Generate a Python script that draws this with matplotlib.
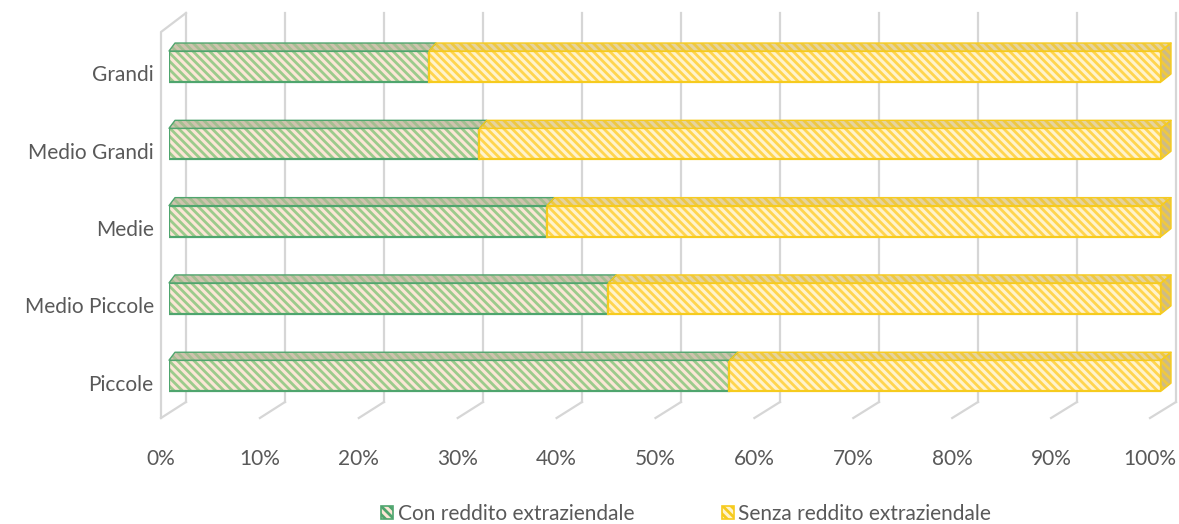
import matplotlib
matplotlib.use("Agg")
import matplotlib.pyplot as plt
from matplotlib.patches import Polygon, Patch
from matplotlib.lines import Line2D
from matplotlib.transforms import ScaledTranslation
import numpy as np

# ---------------- data ----------------
categories = ["Piccole", "Medio Piccole", "Medie", "Medio Grandi", "Grandi"]
con_reddito = [56.5, 44.3, 38.1, 31.3, 26.2]          # % Con reddito extraziendale
senza_reddito = [100 - v for v in con_reddito]          # % Senza reddito extraziendale
series_names = ["Con reddito extraziendale", "Senza reddito extraziendale"]
xtick_labels = ["0%", "10%", "20%", "30%", "40%", "50%", "60%", "70%", "80%", "90%", "100%"]

# ---------------- style ----------------
W, H, DPI = 1179, 524, 100
plt.rcParams["font.family"] = ["Lato", "DejaVu Sans"]
plt.rcParams["hatch.linewidth"] = 2.0
TXT = "#595959"
GRID = "#D6D6D6"
FS = 15
HATCH = "\\\\\\\\"

green_fill, green_hatch, green_edge = "#FBE6D6", "#9CCB8C", "#4FA56E"
green_top_fill, green_top_hatch = "#CFC3AE", "#A3BE90"
yel_fill, yel_hatch, yel_edge = "#FFF3CC", "#FFD54F", "#F6CB1E"
yel_top_fill, yel_top_hatch = "#E6D49E", "#EEC842"
yel_side_fill = "#CDBB86"

fig = plt.figure(figsize=(W / DPI, H / DPI), dpi=DPI)


def px_axes(left, right, top, bottom, **kw):
    return fig.add_axes([left / W, (H - bottom) / H, (right - left) / W, (bottom - top) / H], **kw)


def off(ax):
    ax.set_axis_off()
    ax.patch.set_alpha(0)


ylim = (-0.379, 4.666)
bar_h = 0.40
y = np.arange(len(categories))

# back wall (gridlines)
ax_wall = px_axes(186, 1176, 13, 402, zorder=0)
ax_wall.set_xlim(0, 1)
ax_wall.set_ylim(0, 1)
off(ax_wall)
ticks = np.linspace(0, 1, len(xtick_labels))
for t in ticks:
    ax_wall.axvline(t, color=GRID, lw=1.6, clip_on=False)

# floor front (tick labels)
ax_floor = px_axes(161, 1150, 410, 418, zorder=0)
ax_floor.set_xlim(0, 1)
ax_floor.set_xticks(ticks)
ax_floor.set_xticklabels(xtick_labels, color=TXT, fontsize=FS)
ax_floor.set_yticks([])
ax_floor.tick_params(axis="x", length=0, pad=22)
for s in ax_floor.spines.values():
    s.set_visible(False)
ax_floor.patch.set_alpha(0)

# bar back plane (for 3D top / side faces)
ax_back = px_axes(175, 1171, 7, 397, zorder=1)
ax_back.set_xlim(0, 100)
ax_back.set_ylim(*ylim)
off(ax_back)

# main axes: front face of bars
ax = px_axes(169, 1161, 15, 405, zorder=2)
ax.set_xlim(0, 100)
ax.set_ylim(*ylim)
ax.patch.set_alpha(0)
for s in ax.spines.values():
    s.set_visible(False)
ax.set_xticks([])
ax.set_yticks(y)
ax.set_yticklabels(categories, color=TXT, fontsize=FS)
ax.tick_params(axis="y", length=0, pad=11)
for lab in ax.get_yticklabels():
    lab.set_transform(lab.get_transform() + ScaledTranslation(0, -5 / 72, fig.dpi_scale_trans))

# front faces (hatch layer + outline layer)
ax.barh(y, con_reddito, height=bar_h, color=green_fill, edgecolor=green_hatch, hatch=HATCH, lw=0)
ax.barh(y, con_reddito, height=bar_h, fill=False, edgecolor=green_edge, lw=1.6)
ax.barh(y, senza_reddito, left=con_reddito, height=bar_h, color=yel_fill, edgecolor=yel_hatch,
        hatch=HATCH, lw=0)
ax.barh(y, senza_reddito, left=con_reddito, height=bar_h, fill=False, edgecolor=yel_edge, lw=1.6)

# 3D top faces and right side face, computed from both planes
inv = fig.transFigure.inverted()


def fig_pts(pairs):
    out = []
    for a, (xv, yv) in pairs:
        out.append(inv.transform(a.transData.transform((xv, yv))))
    return np.array(out)


def add_face(pts, fc, hc, ec):
    fig.add_artist(Polygon(pts, closed=True, facecolor=fc, edgecolor=hc, hatch=HATCH, lw=0,
                           transform=fig.transFigure, zorder=3))
    fig.add_artist(Polygon(pts, closed=True, fill=False, edgecolor=ec, lw=1.0,
                           transform=fig.transFigure, zorder=3.1, joinstyle="round"))


for yi, c, s in zip(y, con_reddito, senza_reddito):
    top = yi + bar_h / 2
    bot = yi - bar_h / 2
    add_face(fig_pts([(ax, (0, top)), (ax, (c, top)), (ax_back, (c, top)), (ax_back, (0, top))]),
             green_top_fill, green_top_hatch, green_edge)
    add_face(fig_pts([(ax, (c, top)), (ax, (c + s, top)), (ax_back, (c + s, top)), (ax_back, (c, top))]),
             yel_top_fill, yel_top_hatch, yel_edge)
    add_face(fig_pts([(ax, (c + s, top)), (ax, (c + s, bot)), (ax_back, (c + s, bot)), (ax_back, (c + s, top))]),
             yel_side_fill, yel_top_hatch, yel_edge)

# floor diagonals and left wall
for t in ticks:
    p_back = inv.transform(ax_wall.transData.transform((t, 0)))
    p_front = inv.transform(ax_floor.transData.transform((t, 0)))
    fig.add_artist(Line2D([p_back[0], p_front[0]], [p_back[1], p_front[1]], color=GRID, lw=1.6,
                          transform=fig.transFigure, zorder=0.5))
wall_top = inv.transform(ax_wall.transData.transform((0, 1)))
floor0 = inv.transform(ax_floor.transData.transform((0, 0)))
left_top = (floor0[0], wall_top[1] - 19 / H)
fig.add_artist(Line2D([wall_top[0], left_top[0], floor0[0]], [wall_top[1], left_top[1], floor0[1]],
                      color=GRID, lw=1.6, transform=fig.transFigure, zorder=0.5))

# legend
handles = [
    Patch(facecolor=green_fill, edgecolor=green_edge, hatch=HATCH, lw=1.2),
    Patch(facecolor=yel_fill, edgecolor=yel_edge, hatch=HATCH, lw=1.2),
]
leg = fig.legend(handles, series_names, loc="center", bbox_to_anchor=(686 / W, 10 / H), ncol=2,
                 frameon=False, fontsize=FS, handlelength=0.6, handleheight=0.6,
                 handletextpad=0.2, columnspacing=4.2, labelcolor=TXT)

fig.savefig("out.png", dpi=DPI)
